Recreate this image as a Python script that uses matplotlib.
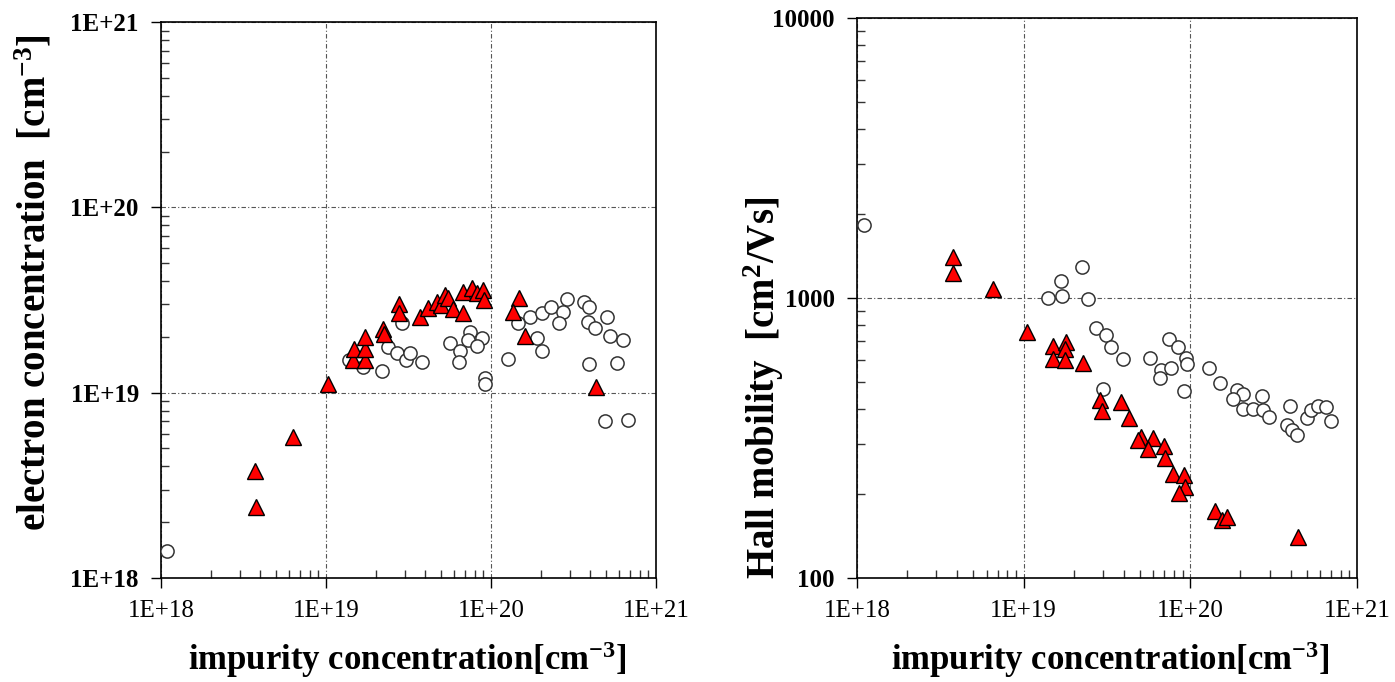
import numpy as np
import matplotlib
matplotlib.use("Agg")
import matplotlib.pyplot as plt
from matplotlib.ticker import LogLocator, FuncFormatter, NullFormatter

plt.rcParams['font.family'] = ['Liberation Serif', 'DejaVu Serif']
plt.rcParams['mathtext.fontset'] = 'custom'
plt.rcParams['mathtext.rm'] = 'Liberation Serif:bold'
plt.rcParams['mathtext.it'] = 'Liberation Serif:bold'
plt.rcParams['mathtext.bf'] = 'Liberation Serif:bold'
plt.rcParams['mathtext.default'] = 'rm'

# left panel: electron concentration vs impurity concentration
n_circ_x = [1.09e18, 1.38e19, 1.68e19, 2.18e19, 2.38e19, 2.69e19, 3.05e19, 3.23e19, 3.82e19, 2.89e19,
            5.65e19, 6.49e19, 6.40e19, 7.46e19, 7.26e19, 8.81e19, 8.22e19, 9.2e19, 9.2e19, 1.27e20,
            1.46e20, 1.72e20, 2.04e20, 2.31e20, 2.89e20, 2.73e20, 2.58e20, 1.90e20, 2.04e20, 3.66e20,
            3.93e20, 3.87e20, 4.27e20, 5.05e20, 5.26e20, 6.31e20, 3.93e20, 5.81e20, 4.91e20, 6.76e20]
n_circ_y = [1.40e18, 1.50e19, 1.37e19, 1.31e19, 1.76e19, 1.64e19, 1.50e19, 1.64e19, 1.46e19, 2.38e19,
            1.85e19, 1.68e19, 1.46e19, 2.12e19, 1.92e19, 1.97e19, 1.78e19, 1.20e19, 1.11e19, 1.52e19,
            2.38e19, 2.56e19, 2.69e19, 2.90e19, 3.20e19, 2.72e19, 2.38e19, 1.97e19, 1.68e19, 3.08e19,
            2.90e19, 2.40e19, 2.23e19, 2.56e19, 2.02e19, 1.92e19, 1.43e19, 1.44e19, 7.03e18, 7.1e18]

n_tri_x = [3.72e18, 3.77e18, 6.31e18, 1.03e19, 1.46e19, 1.48e19, 1.72e19, 1.72e19, 1.72e19, 2.21e19,
           2.25e19, 2.77e19, 2.77e19, 3.72e19, 4.15e19, 4.71e19, 4.98e19, 5.26e19, 5.49e19, 5.89e19,
           6.76e19, 6.76e19, 7.67e19, 8.22e19, 8.95e19, 9.08e19, 1.48e20, 1.36e20, 1.61e20, 4.33e20]
n_tri_y = [3.78e18, 2.41e18, 5.76e18, 1.11e19, 1.50e19, 1.72e19, 1.50e19, 1.72e19, 2.00e19, 2.20e19,
           2.07e19, 3.01e19, 2.69e19, 2.56e19, 2.86e19, 3.08e19, 2.97e19, 3.36e19, 3.24e19, 2.83e19,
           2.69e19, 3.49e19, 3.66e19, 3.45e19, 3.58e19, 3.16e19, 3.24e19, 2.72e19, 2.02e19, 1.07e19]

# right panel: Hall mobility vs impurity concentration
mu_circ_x = [1.10e18, 1.40e19, 1.70e19, 1.67e19, 2.24e19, 2.43e19, 2.72e19, 3.12e19, 3.34e19, 3.94e19,
             2.99e19, 5.73e19, 7.45e19, 8.44e19, 9.42e19, 9.55e19, 6.67e19, 7.66e19, 6.58e19, 9.16e19,
             1.29e20, 1.51e20, 1.91e20, 2.07e20, 1.80e20, 2.69e20, 2.07e20, 2.38e20, 2.73e20, 2.96e20,
             3.96e20, 3.80e20, 4.07e20, 4.36e20, 5.00e20, 5.29e20, 5.82e20, 6.50e20, 6.97e20]
mu_circ_y = [1824, 1000, 1016, 1150, 1291, 991, 781, 738, 668, 606,
             473, 611, 714, 668, 611, 581, 553, 562, 518, 465,
             562, 497, 469, 454, 436, 447, 402, 402, 398, 376,
             411, 352, 338, 324, 373, 398, 411, 408, 364]

mu_tri_x = [3.77e18, 3.77e18, 6.55e18, 1.05e19, 1.50e19, 1.80e19, 1.77e19, 1.50e19, 1.77e19, 2.27e19,
            2.87e19, 2.95e19, 3.84e19, 4.28e19, 5.06e19, 4.85e19, 5.97e19, 5.57e19, 6.95e19, 7.05e19,
            7.87e19, 9.16e19, 9.29e19, 8.55e19, 1.41e20, 1.55e20, 1.66e20, 4.43e20]
mu_tri_y = [1400, 1227, 1077, 757, 674, 697, 657, 606, 601, 586,
            432, 395, 425, 373, 319, 311, 315, 289, 296, 268,
            235, 233, 211, 201, 173, 161, 165, 140]

x_label = 'impurity concentration[cm$^{-3}$]'
y_label_left = 'electron concentration  [cm$^{-3}$]'
y_label_right = 'Hall mobility  [cm$^{2}$/Vs]'


def sci_fmt(v, pos):
    return '1E+%d' % int(round(np.log10(v)))


def plain_fmt(v, pos):
    return '%d' % int(round(v))


def style_axis(ax, yfmt):
    ax.set_xscale('log')
    ax.set_yscale('log')
    ax.xaxis.set_major_locator(LogLocator(base=10, numticks=10))
    ax.yaxis.set_major_locator(LogLocator(base=10, numticks=10))
    ax.xaxis.set_minor_locator(LogLocator(base=10, subs=np.arange(2, 10), numticks=10))
    ax.yaxis.set_minor_locator(LogLocator(base=10, subs=np.arange(2, 10), numticks=10))
    ax.xaxis.set_major_formatter(FuncFormatter(sci_fmt))
    ax.yaxis.set_major_formatter(FuncFormatter(yfmt))
    ax.xaxis.set_minor_formatter(NullFormatter())
    ax.yaxis.set_minor_formatter(NullFormatter())
    ax.tick_params(which='major', direction='out', length=7, width=1, color='black', pad=9)
    ax.tick_params(which='minor', direction='in', length=6, width=1, color='#333333')
    ax.tick_params(axis='x', which='major', labelsize=18)
    ax.tick_params(axis='y', which='major', labelsize=18)
    for lab in ax.get_yticklabels():
        lab.set_fontweight('bold')
    ax.grid(True, which='major', linestyle=(0, (4, 2, 1, 2)), color='#555555', linewidth=0.8)
    for s in ax.spines.values():
        s.set_linewidth(1.2)
        s.set_color('black')


fig = plt.figure(figsize=(13.95, 6.82), dpi=100)

ax1 = fig.add_axes([0.1154, 0.1525, 0.3548, 0.8152])
ax1.plot(n_circ_x, n_circ_y, 'o', ms=9.5, mfc='white', mec='#333333', mew=1.1, zorder=3)
ax1.plot(n_tri_x, n_tri_y, '^', ms=11, mfc='#ff0000', mec='black', mew=1.0, zorder=4)
ax1.set_xlim(1e18, 1e21)
ax1.set_ylim(1e18, 1e21)
style_axis(ax1, sci_fmt)
ax1.set_xlabel(x_label, fontsize=25, fontweight='bold')
ax1.set_ylabel(y_label_left, fontsize=28, fontweight='bold')
ax1.xaxis.set_label_coords(0.497, -0.11)
ax1.yaxis.set_label_coords(-0.215, 0.532)

ax2 = fig.add_axes([0.6143, 0.1525, 0.3584, 0.8211])
ax2.plot(mu_circ_x, mu_circ_y, 'o', ms=9.5, mfc='white', mec='#333333', mew=1.1, zorder=3)
ax2.plot(mu_tri_x, mu_tri_y, '^', ms=11, mfc='#ff0000', mec='black', mew=1.0, zorder=4)
ax2.set_xlim(1e18, 1e21)
ax2.set_ylim(100, 10000)
style_axis(ax2, plain_fmt)
ax2.set_xlabel(x_label, fontsize=25, fontweight='bold')
ax2.set_ylabel(y_label_right, fontsize=28, fontweight='bold')
ax2.xaxis.set_label_coords(0.506, -0.11)
ax2.yaxis.set_label_coords(-0.142, 0.34)

fig.savefig('out.png', dpi=100)
